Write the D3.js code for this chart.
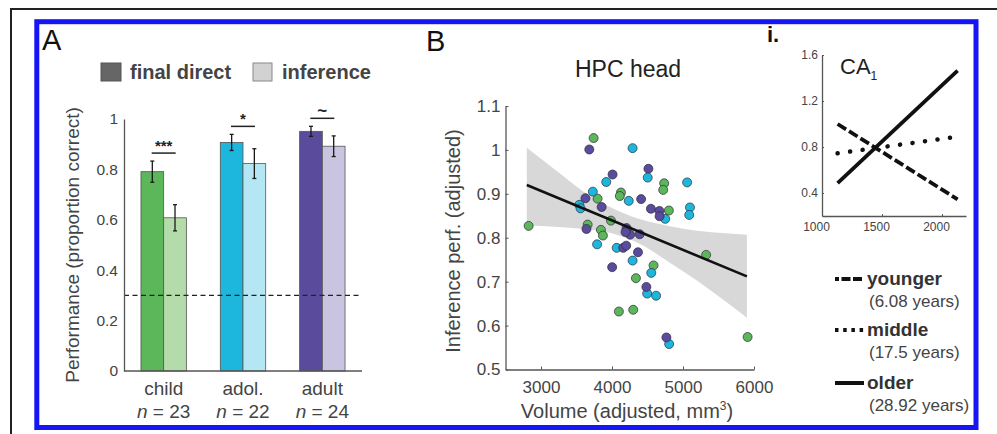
<!DOCTYPE html>
<html>
<head>
<meta charset="utf-8">
<script src="https://cdn.jsdelivr.net/npm/d3@7"></script>
<style>
  body { margin: 0; background: #fff; }
  svg { display: block; font-family: "Liberation Sans", Arial, sans-serif; }
</style>
</head>
<body>
<svg width="997" height="434"></svg>
<script>
// panel A: performance by age group
var groups = ["child", "adol.", "adult"];
var groupN = ["23", "22", "24"];
var directVals = [0.791, 0.907, 0.951];
var directErr = [0.042, 0.032, 0.020];
var inferVals = [0.608, 0.823, 0.892];
var inferErr = [0.052, 0.059, 0.041];
var sigLabels = ["***", "*", "~"];
var chance = 0.3;
var perfTicks = [0, 0.2, 0.4, 0.6, 0.8, 1];

// panel B: HPC head scatter (volume, inference perf.)
var childVol = [2826, 3741, 3797, 3657, 3844, 3872, 3985, 4126, 4110, 4735, 4721, 4801, 4585, 4337, 4097, 4299, 5326, 5910];
var childPerf = [0.827, 1.027, 0.889, 0.830, 0.818, 0.805, 0.839, 0.903, 0.895, 0.924, 0.909, 0.862, 0.737, 0.708, 0.632, 0.636, 0.761, 0.574];
var adolVol = [4290, 3919, 3730, 3540, 3557, 3790, 4066, 4236, 4503, 4750, 5058, 5098, 5088, 4290, 4553, 4495, 4621, 4805];
var adolPerf = [1.004, 0.927, 0.905, 0.875, 0.867, 0.785, 0.777, 0.884, 0.937, 0.843, 0.926, 0.869, 0.852, 0.748, 0.720, 0.673, 0.668, 0.558];
var adultVol = [3680, 4008, 4513, 3626, 3854, 3640, 4205, 4255, 4190, 4390, 4410, 4548, 4668, 4670, 4002, 4158, 4200, 4366, 4484, 4766];
var adultPerf = [1.001, 0.944, 0.957, 0.890, 0.870, 0.820, 0.822, 0.807, 0.813, 0.808, 0.888, 0.866, 0.861, 0.849, 0.733, 0.777, 0.782, 0.767, 0.688, 0.573];
var fitVol = [2800, 5900];
var fitPerf = [0.920, 0.712];
var bandVol = [2800, 3200, 3600, 4000, 4400, 4800, 5200, 5600, 5900];
var bandUpper = [1.005, 0.955, 0.905, 0.868, 0.842, 0.827, 0.816, 0.810, 0.807];
var bandLower = [0.828, 0.825, 0.820, 0.810, 0.785, 0.745, 0.702, 0.655, 0.618];
var volTicks = [3000, 4000, 5000, 6000];
var perfBTicks = [0.5, 0.6, 0.7, 0.8, 0.9, 1, 1.1];

// panel i: CA1 by age
var caX = [1130, 2130];
var youngerY = [1.0, 0.345];
var middleY = [0.745, 0.89];
var olderY = [0.485, 1.465];
var caXTicks = [1000, 1500, 2000];
var caYTicks = [0.4, 0.8, 1.2, 1.6];
var ageNames = ["younger", "middle", "older"];
var ageYears = ["(6.08 years)", "(17.5 years)", "(28.92 years)"];

var darkCols = ["#5cb65a", "#1db7dd", "#5b4b9c"];
var lightCols = ["#b3dcaa", "#b5e6f3", "#c9c5e0"];
var axisCol = "#555", tickCol = "#444";

var svg = d3.select("svg");

// frame
svg.append("path").attr("d", "M11,434V9H997").attr("fill", "none").attr("stroke", "#222").attr("stroke-width", 2);
svg.append("rect").attr("x", 36.8).attr("y", 21.7).attr("width", 939.2).attr("height", 405.8)
    .attr("fill", "none").attr("stroke", "#1515f5").attr("stroke-width", 5);

function styleAxis(g, size) {
    g.select(".domain").attr("stroke", axisCol).attr("stroke-width", 1.3);
    g.selectAll(".tick line").attr("stroke", axisCol);
    g.selectAll(".tick text").attr("fill", tickCol).attr("font-size", size);
}

// ---------- panel A ----------
var yA = d3.scaleLinear().domain([0, 1]).range([371, 119]);
var xA = d3.scalePoint().domain(groups).range([124, 362]).padding(0.5);
var sub = d3.scaleBand().domain(["direct", "infer"]).range([-22.7, 22.7]);

svg.append("text").attr("x", 42).attr("y", 50).attr("font-size", 29).attr("fill", "#111").text("A");

// legend
svg.append("rect").attr("x", 101).attr("y", 63).attr("width", 20).attr("height", 18).attr("fill", "#666").attr("stroke", "#555");
svg.append("text").attr("x", 130).attr("y", 79).attr("font-size", 20).attr("font-weight", "bold").attr("fill", "#444").text("final direct");
svg.append("rect").attr("x", 253).attr("y", 63).attr("width", 19).attr("height", 18).attr("fill", "#d2d2d2").attr("stroke", "#888");
svg.append("text").attr("x", 282).attr("y", 79).attr("font-size", 20).attr("font-weight", "bold").attr("fill", "#444").text("inference");

var bars = [];
groups.forEach(function (g, i) {
    bars.push({g: g, k: "direct", v: directVals[i], e: directErr[i], c: darkCols[i]});
    bars.push({g: g, k: "infer", v: inferVals[i], e: inferErr[i], c: lightCols[i]});
});

svg.selectAll(".bar").data(bars).enter().append("rect")
    .attr("x", function (d) { return xA(d.g) + sub(d.k); })
    .attr("y", function (d) { return yA(d.v); })
    .attr("width", sub.bandwidth())
    .attr("height", function (d) { return yA(0) - yA(d.v); })
    .attr("fill", function (d) { return d.c; })
    .attr("stroke", "#555").attr("stroke-width", 0.8);

var eb = svg.selectAll(".eb").data(bars).enter().append("g")
    .attr("transform", function (d) { return "translate(" + (xA(d.g) + sub(d.k) + sub.bandwidth() / 2) + ",0)"; })
    .attr("stroke", "#1a1a1a").attr("stroke-width", 1.3);
eb.append("line").attr("y1", function (d) { return yA(d.v + d.e); }).attr("y2", function (d) { return yA(d.v - d.e); });
eb.append("line").attr("x1", -2).attr("x2", 2).attr("y1", function (d) { return yA(d.v + d.e); }).attr("y2", function (d) { return yA(d.v + d.e); });
eb.append("line").attr("x1", -2).attr("x2", 2).attr("y1", function (d) { return yA(d.v - d.e); }).attr("y2", function (d) { return yA(d.v - d.e); });

// significance markers
groups.forEach(function (g, i) {
    var top = yA(Math.max(directVals[i] + directErr[i], inferVals[i] + inferErr[i])) - 8;
    if (i === 0) top = yA(directVals[i] + directErr[i]) - 8;
    var cx = xA(g);
    svg.append("line").attr("x1", cx - 12).attr("x2", cx + 12).attr("y1", top).attr("y2", top)
        .attr("stroke", "#222").attr("stroke-width", 1.5);
    svg.append("text").attr("x", cx).attr("y", top - 2).attr("text-anchor", "middle")
        .attr("font-size", sigLabels[i] === "~" ? 17 : 15).attr("font-weight", "bold").attr("fill", "#222")
        .text(sigLabels[i]);
});

svg.append("line").attr("x1", 124).attr("x2", 362).attr("y1", yA(chance)).attr("y2", yA(chance))
    .attr("stroke", "#222").attr("stroke-width", 1.3).attr("stroke-dasharray", "5,3.5");

var gAy = svg.append("g").attr("transform", "translate(124,0)")
    .call(d3.axisLeft(yA).tickValues(perfTicks).tickFormat(function (d) { return String(d); }).tickSizeInner(0).tickSizeOuter(0).tickPadding(6));
styleAxis(gAy, 15.5);
var gAx = svg.append("g").attr("transform", "translate(0,371)")
    .call(d3.axisBottom(xA).tickSize(0).tickFormat(""));
gAx.select(".domain").attr("d", "M124,0H362");
styleAxis(gAx, 19);

groups.forEach(function (g, i) {
    svg.append("text").attr("x", xA(g)).attr("y", 395).attr("text-anchor", "middle").attr("font-size", 19).attr("fill", "#444").text(g);
    var t = svg.append("text").attr("x", xA(g)).attr("y", 418).attr("text-anchor", "middle").attr("font-size", 19).attr("fill", "#444");
    t.append("tspan").attr("font-style", "italic").text("n");
    t.append("tspan").text(" = " + groupN[i]);
});

svg.append("text").attr("transform", "translate(72,245) rotate(-90)").attr("dy", "0.35em")
    .attr("text-anchor", "middle").attr("font-size", 19).attr("fill", "#444").text("Performance (proportion correct)");

// ---------- panel B ----------
var xB = d3.scaleLinear().domain([2500, 6000]).range([505.5, 754]);
var yB = d3.scaleLinear().domain([0.5, 1.1]).range([369.5, 106]);

svg.append("text").attr("x", 426).attr("y", 51).attr("font-size", 29).attr("fill", "#111").text("B");
svg.append("text").attr("x", 628).attr("y", 77).attr("text-anchor", "middle").attr("font-size", 23).attr("fill", "#222").text("HPC head");

var band = d3.area()
    .x(function (d, i) { return xB(bandVol[i]); })
    .y0(function (d, i) { return yB(bandLower[i]); })
    .y1(function (d, i) { return yB(bandUpper[i]); })
    .curve(d3.curveMonotoneX);
svg.append("path").datum(bandVol).attr("d", band).attr("fill", "#d4d4d4").attr("opacity", 0.9);

var pts = [];
[[childVol, childPerf], [adolVol, adolPerf], [adultVol, adultPerf]].forEach(function (s, k) {
    s[0].forEach(function (v, i) { pts.push({x: v, y: s[1][i], c: darkCols[k], o: i * 3 + k}); });
});
pts.sort(function (a, b) { return a.o - b.o; });
svg.selectAll(".pt").data(pts).enter().append("circle")
    .attr("cx", function (d) { return xB(d.x); })
    .attr("cy", function (d) { return yB(d.y); })
    .attr("r", 4.5)
    .attr("fill", function (d) { return d.c; })
    .attr("stroke", "#2a2a3a").attr("stroke-width", 0.7);

var fit = d3.line().x(function (d, i) { return xB(fitVol[i]); }).y(function (d, i) { return yB(fitPerf[i]); });
svg.append("path").datum(fitVol).attr("d", fit).attr("stroke", "#111").attr("stroke-width", 2.6).attr("fill", "none");

var gBy = svg.append("g").attr("transform", "translate(505.5,0)")
    .call(d3.axisLeft(yB).tickValues(perfBTicks).tickFormat(function (d) { return String(d); }).tickSizeInner(-3).tickSizeOuter(0).tickPadding(5));
styleAxis(gBy, 17);
var gBx = svg.append("g").attr("transform", "translate(0,369.5)")
    .call(d3.axisBottom(xB).tickValues(volTicks).tickSizeInner(-3).tickSizeOuter(0).tickPadding(8).tickFormat(d3.format("d")));
styleAxis(gBx, 17);
gBx.selectAll(".tick text").attr("dy", "0.9em");

var xl = svg.append("text").attr("x", 627).attr("y", 418).attr("text-anchor", "middle").attr("font-size", 20).attr("fill", "#444");
xl.append("tspan").text("Volume (adjusted, mm");
xl.append("tspan").attr("font-size", 12).attr("dy", -8).text("3");
xl.append("tspan").attr("dy", 8).text(")");

svg.append("text").attr("transform", "translate(453,241) rotate(-90)").attr("dy", "0.35em")
    .attr("text-anchor", "middle").attr("font-size", 20).attr("fill", "#444").text("Inference perf. (adjusted)");

// ---------- panel i ----------
var xC = d3.scaleLinear().domain([1000, 2200]).range([822, 966]);
var yC = d3.scaleLinear().domain([0.2, 1.6]).range([216, 55]);

svg.append("text").attr("x", 767).attr("y", 42).attr("font-size", 22).attr("font-weight", "bold").attr("fill", "#111").text("i.");
var ca = svg.append("text").attr("x", 840).attr("y", 74).attr("font-size", 22).attr("fill", "#222");
ca.append("tspan").text("CA");
ca.append("tspan").attr("font-size", 12).attr("dy", 6).text("1");

var dashes = ["10,3.5", "0.1,12.5", null];
var ageY = [youngerY, middleY, olderY];
ageY.forEach(function (ys, k) {
    var ln = d3.line().x(function (d, i) { return xC(caX[i]); }).y(function (d, i) { return yC(ys[i]); });
    svg.append("path").datum(caX).attr("d", ln).attr("fill", "none").attr("stroke", "#111")
        .attr("stroke-width", k === 1 ? 4.5 : 3.8)
        .attr("stroke-linecap", k === 1 ? "round" : "butt")
        .attr("stroke-dasharray", dashes[k]);
});

var gCy = svg.append("g").attr("transform", "translate(822,0)")
    .call(d3.axisLeft(yC).tickValues(caYTicks).tickFormat(function (d) { return String(d); }).tickSizeInner(-2).tickSizeOuter(0).tickPadding(4));
styleAxis(gCy, 12);
var gCx = svg.append("g").attr("transform", "translate(0,216)")
    .call(d3.axisBottom(xC).tickValues(caXTicks).tickSizeInner(-2).tickSizeOuter(0).tickPadding(6).tickFormat(d3.format("d")));
styleAxis(gCx, 12);
gCx.selectAll(".tick text").attr("transform", "translate(-6,0)");

// legend for panel i
var legY = [279, 330, 383];
var legDash = ["4,2.5,9,2.5,9", "3.5,4.7", null];
ageNames.forEach(function (n, k) {
    svg.append("line").attr("x1", 835).attr("x2", 864).attr("y1", legY[k]).attr("y2", legY[k])
        .attr("stroke", "#111").attr("stroke-width", 4).attr("stroke-dasharray", legDash[k]);
    svg.append("text").attr("x", 867).attr("y", legY[k] + 6).attr("font-size", 19).attr("font-weight", "bold").attr("fill", "#333").text(n);
    svg.append("text").attr("x", 869).attr("y", legY[k] + 28).attr("font-size", 17).attr("fill", "#444").text(ageYears[k]);
});
</script>
</body>
</html>
